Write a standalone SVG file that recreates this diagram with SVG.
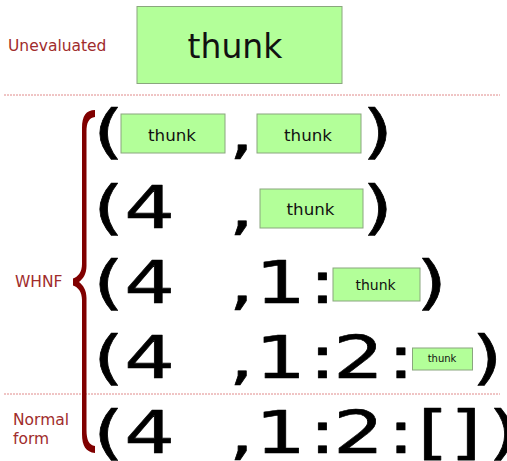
<svg xmlns="http://www.w3.org/2000/svg" width="507" height="461" viewBox="0 0 507 461">
<style>
.box{fill:#b3ff99;stroke:#8aa67e;stroke-width:1}
.th{font-family:"DejaVu Sans",sans-serif;fill:#111;text-anchor:middle}
.lbl{font-family:"DejaVu Sans",sans-serif;font-size:15.5px;fill:#a02c2c}
.big{font-family:"DejaVu Sans",sans-serif;font-size:59px;fill:#000;stroke:#000;stroke-width:0.6;stroke-linejoin:round;text-anchor:middle}
.sep{stroke:#e08a8a;stroke-width:1;stroke-dasharray:2 1;fill:none}
</style>
<rect width="507" height="461" fill="#fff"/>
<g id="separators">
<line class="sep" x1="4" y1="95" x2="500" y2="95"/>
<line class="sep" x1="4" y1="394" x2="500" y2="394"/>
</g>
<g id="label-unevaluated"><text class="lbl" x="8" y="51">Unevaluated</text></g>
<g id="label-whnf"><text class="lbl" x="15" y="287">WHNF</text></g>
<g id="label-normal"><text class="lbl" x="13" y="425">Normal</text><text class="lbl" x="13" y="444">form</text></g>
<g id="brace"><path fill="#800000" d="M95,110 L95,117 C89,118 86.5,122 86.5,132 L86.5,266 C86.5,274 83,279 79,282 C83,285 86.5,290 86.5,298 L86.5,430 C86.5,440 89,445 95,446 L95,453 C86,452 82,446 82,434 L82,300 C82,292 78,287 73,285.5 L73,278.5 C78,277 82,272 82,264 L82,128 C82,116 86,110 95,110 Z"/></g>
<g id="thunk-top"><rect class="box" x="137" y="6.5" width="205" height="77"/><text class="th" x="235" y="58" font-size="33">thunk</text></g>
<g id="row1">
<g transform="scale(1.35 1)"><text class="big" x="80.37 178.9 279.6" y="152.5">(,)</text></g>
<g id="row1-thunk1"><rect class="box" x="121" y="114" width="104" height="39"/><text class="th" x="172" y="140.5" font-size="16.7">thunk</text></g>
<g id="row1-thunk2"><rect class="box" x="257" y="114" width="104" height="39"/><text class="th" x="308" y="140.5" font-size="16.7">thunk</text></g>
</g>
<g id="row2">
<g transform="scale(1.35 1)"><text class="big" x="80.37 110.74 178.9 279.6" y="228">(4,)</text></g>
<g id="row2-thunk"><rect class="box" x="260" y="189" width="103" height="39"/><text class="th" x="310.5" y="215" font-size="16.7">thunk</text></g>
</g>
<g id="row3">
<g transform="scale(1.35 1)"><text class="big" x="80.37 110.74 178.9 207.78 238.89 319.6" y="303">(4,1:)</text></g>
<g id="row3-thunk"><rect class="box" x="333" y="268" width="87" height="33"/><text class="th" x="375.5" y="290" font-size="14">thunk</text></g>
</g>
<g id="row4">
<g transform="scale(1.35 1)"><text class="big" x="80.37 110.74 178.9 207.78 238.89 265.56 297.04 360.7" y="378">(4,1:2:)</text></g>
<g id="row4-thunk"><rect class="box" x="412.5" y="348" width="60" height="22"/><text class="th" x="442" y="362" font-size="10">thunk</text></g>
</g>
<g id="row5">
<g transform="scale(1.35 1)"><text class="big" x="80.37 110.74 178.9 207.78 238.89 265.56 297.04 320.7 345 372.96" y="453">(4,1:2:[])</text></g>
</g>
</svg>
